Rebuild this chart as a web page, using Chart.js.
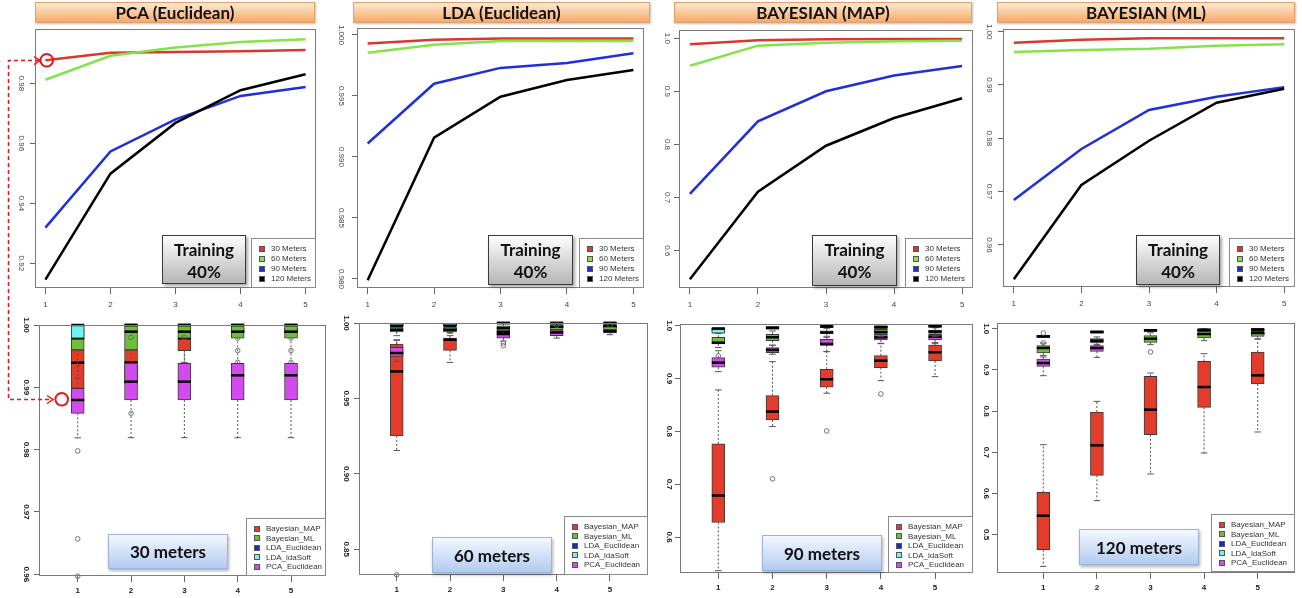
<!DOCTYPE html>
<html>
<head>
<meta charset="utf-8">
<script src="https://cdn.jsdelivr.net/npm/chart.js@4.4.1/dist/chart.umd.min.js"></script>
<style>
  body { margin: 0; background: #fff; }
  #stage { position: relative; width: 1302px; height: 598px; overflow: hidden; font-family: "Liberation Sans", Arial, sans-serif; }
  canvas.plot { position: absolute; }
  .banner, .train, .tag, .legend { position: absolute; box-sizing: border-box; }
  .banner { border: 1px solid #e2a168; background: linear-gradient(#fde9d3, #f5a96a); box-shadow: 1px 1px 2px rgba(0,0,0,.25);
            font: bold 17px Lato, sans-serif; color: #111; display: flex; align-items: center; justify-content: center; }
  .train { border: 1px solid #3a3a3a; background: linear-gradient(#fdfdfd, #b6b6b6); box-shadow: 2px 2px 3px rgba(0,0,0,.35);
           font: bold 17px Lato, sans-serif; color: #111; text-align: center; line-height: 22px; padding-top: 3px; }
  .tag { border: 1px solid #9cb3d8; background: linear-gradient(#f3f8ff, #b3cbef); box-shadow: 1px 2px 3px rgba(0,0,0,.3);
         font: bold 17px Lato, sans-serif; color: #111; display: flex; align-items: center; justify-content: center; }
  .legend { border: 1px solid #8a8a8a; background: #fff; font-size: 8px; color: #333; }
  .lrow { position: absolute; left: 0; right: 0; }
  .lrow i { position: absolute; left: 7px; top: 50%; width: 6px; height: 6px; margin-top: -3px; box-sizing: border-box; border: 1px solid #555; }
  .lrow span { position: absolute; left: 19px; white-space: nowrap; }
  #anno { position: absolute; left: 0; top: 0; pointer-events: none; }
</style>
</head>
<body>
<div id="stage"></div>
<script>
// ---- data ----
const steps = [1, 2, 3, 4, 5];
const meterLabels = ['30 Meters', '60 Meters', '90 Meters', '120 Meters'];
const methodLabels = ['Bayesian_MAP', 'Bayesian_ML', 'LDA_Euclidean', 'LDA_ldaSoft', 'PCA_Euclidean'];
const panelTitles = ['PCA (Euclidean)', 'LDA (Euclidean)', 'BAYESIAN (MAP)', 'BAYESIAN (ML)'];
const boxTitles = ['30 meters', '60 meters', '90 meters', '120 meters'];

// training curves (accuracy per step)
const pcaLine30 = [0.9877, 0.9902, 0.9904, 0.9907, 0.9911];
const pcaLine60 = [0.9812, 0.9892, 0.9919, 0.9938, 0.9947];
const pcaLine90 = [0.9319, 0.9573, 0.9680, 0.9758, 0.9788];
const pcaLine120 = [0.9146, 0.9499, 0.9668, 0.9777, 0.9830];
const ldaLine30 = [0.9993, 0.9996, 0.9997, 0.9997, 0.9997];
const ldaLine60 = [0.99855, 0.9992, 0.9995, 0.9995, 0.9995];
const ldaLine90 = [0.9911, 0.9960, 0.9973, 0.9977, 0.9985];
const ldaLine120 = [0.9799, 0.99158, 0.99494, 0.99631, 0.99713];
const mapLine30 = [0.9887, 0.9962, 0.9980, 0.9985, 0.9985];
const mapLine60 = [0.9484, 0.9861, 0.9917, 0.9944, 0.9955];
const mapLine90 = [0.707, 0.8437, 0.9002, 0.930, 0.9478];
const mapLine120 = [0.5461, 0.7111, 0.7977, 0.8499, 0.887];
const mlLine30 = [0.99794, 0.9985, 0.99875, 0.99875, 0.99875];
const mlLine60 = [0.99619, 0.99657, 0.99681, 0.99737, 0.99763];
const mlLine90 = [0.96842, 0.978, 0.98531, 0.9878, 0.9896];
const mlLine120 = [0.95356, 0.97124, 0.97955, 0.98667, 0.9893];

// y tick labels
const pcaTicks = ['0.92', '0.94', '0.96', '0.98'];
const ldaTicks = ['0.980', '0.985', '0.990', '0.995', '1.000'];
const mapTicks = ['0.6', '0.7', '0.8', '0.9', '1.0'];
const mlTicks = ['0.96', '0.97', '0.98', '0.99', '1.00'];
const box30Ticks = ['0.96', '0.97', '0.98', '0.99', '1.00'];
const box60Ticks = ['0.85', '0.90', '0.95', '1.00'];
const box90Ticks = ['0.6', '0.7', '0.8', '0.9', '1.0'];
const box120Ticks = ['0.5', '0.6', '0.7', '0.8', '0.9', '1.0'];

// box stats per step: [lower whisker, q1, median, q3, upper whisker]
const box30MAP = [[0.9875, 0.98984, 0.99395, 0.9960, 0.9980], [0.9900, 0.9905, 0.9940, 0.9960, 0.9980], [0.9940, 0.99588, 0.99787, 0.99787, 0.9990], [0.9985, 0.9988, 0.9990, 0.9995, 1.0], [0.9985, 0.9988, 0.9990, 0.9995, 1.0]];
const box30ML = [[0.9915, 0.99599, 0.99787, 0.99787, 1.0], [0.9960, 0.9960, 0.99893, 1.0, 1.0], [0.99787, 0.99787, 0.99893, 1.0, 1.0], [0.99787, 0.99787, 0.99893, 1.0, 1.0], [0.99787, 0.99787, 0.99893, 1.0, 1.0]];
const box30LDAE = [[0.99787, 0.99787, 0.9990, 1.0, 1.0], [1, 1, 1, 1, 1], [1, 1, 1, 1, 1], [1, 1, 1, 1, 1], [1, 1, 1, 1, 1]];
const box30LDAS = [[0.99787, 0.99787, 1.0, 1.0, 1.0], [1, 1, 1, 1, 1], [1, 1, 1, 1, 1], [1, 1, 1, 1, 1], [1, 1, 1, 1, 1]];
const box30PCA = [[0.9819, 0.98583, 0.98797, 0.98984, 0.9935], [0.98192, 0.98797, 0.99091, 0.99385, 0.9960], [0.98192, 0.98797, 0.99091, 0.99385, 0.9960], [0.98192, 0.98797, 0.99193, 0.99385, 0.9980], [0.98192, 0.98797, 0.99193, 0.99385, 0.9980]];
const out30MAP = [[], [], [], [0.9979, 0.9959, 0.9940], [0.9979, 0.9959, 0.9940]];
const out30LDAS = [[], [0.998], [0.998], [], []];
const out30PCA = [[0.9798, 0.9657, 0.9597], [0.98583], [], [], []];

const box60MAP = [[0.91545, 0.92520, 0.96788, 0.98606, 0.98846], [0.97385, 0.98182, 0.98892, 0.99004, 0.9935], [0.9905, 0.9929, 0.9940, 0.9955, 0.9970], [0.9955, 0.9965, 0.9975, 0.9985, 0.9995], [0.9955, 0.9965, 0.9975, 0.9985, 0.9995]];
const box60ML = [[0.9916, 0.99403, 0.99555, 0.99734, 0.9990], [0.9916, 0.99403, 0.99555, 0.99734, 0.9990], [0.9950, 0.9950, 0.9966, 0.9982, 1.0], [0.99555, 0.99555, 0.9975, 0.9989, 1.0], [0.99555, 0.99555, 0.9980, 0.9990, 1.0]];
const box60LDAE = [[0.9982, 0.9982, 0.9990, 1.0, 1.0], [0.9982, 0.9982, 0.9990, 1.0, 1.0], [1, 1, 1, 1, 1], [1, 1, 1, 1, 1], [1, 1, 1, 1, 1]];
const box60LDAS = [[0.9982, 0.9982, 0.9982, 1.0, 1.0], [0.9982, 0.9982, 0.9982, 1.0, 1.0], [1, 1, 1, 1, 1], [1, 1, 1, 1, 1], [1, 1, 1, 1, 1]];
const box60PCA = [[0.97451, 0.97783, 0.98009, 0.98381, 0.9889], [0.9935, 0.9945, 0.9955, 0.9965, 0.9970], [0.9880, 0.9900, 0.9927, 0.9929, 0.9950], [0.9900, 0.99157, 0.99376, 0.99555, 0.9970], [0.99223, 0.9934, 0.9945, 0.99555, 0.9970]];
const out60MAP = [[0.8330], [], [], [], []];
const out60LDAS = [[], [], [], [0.9985], [0.9985]];
const out60PCA = [[], [], [0.98673, 0.98493], [], []];

const box90MAP = [[0.5363, 0.6276, 0.6786, 0.7764, 0.8785], [0.8091, 0.8217, 0.8374, 0.8677, 0.932], [0.8722, 0.8836, 0.8987, 0.9176, 0.951], [0.8960, 0.9206, 0.9338, 0.9433, 0.9667], [0.9036, 0.9333, 0.9497, 0.9635, 0.968]];
const box90ML = [[0.9587, 0.96541, 0.96786, 0.97807, 0.985], [0.963, 0.9716, 0.9781, 0.9837, 0.990], [0.980, 0.9855, 0.9870, 0.9905, 0.995], [0.980, 0.9840, 0.9880, 0.9930, 0.996], [0.980, 0.9856, 0.9888, 0.9919, 0.996]];
const box90LDAE = [[0.98563, 0.98563, 0.9943, 0.99509, 0.99509], [0.9935, 0.9935, 0.996, 0.998, 0.998], [0.9975, 0.9975, 0.9985, 0.9995, 0.9995], [0.9950, 0.9950, 0.9975, 0.9995, 0.9995], [0.9985, 0.9985, 0.999, 0.9995, 1.0]];
const box90LDAS = [[0.98563, 0.98563, 0.9943, 0.99509, 0.99509], [0.9935, 0.9935, 0.996, 0.998, 0.998], [0.9975, 0.9975, 0.9985, 0.9995, 0.9995], [0.9950, 0.9950, 0.9975, 0.9995, 0.9995], [0.9985, 0.9985, 0.999, 0.9995, 1.0]];
const box90PCA = [[0.9130, 0.9214, 0.9301, 0.9395, 0.9526], [0.946, 0.9490, 0.9541, 0.9584, 0.963], [0.9509, 0.9629, 0.9654, 0.9743, 0.978], [0.966, 0.9730, 0.9780, 0.9837, 0.988], [0.966, 0.9730, 0.9792, 0.9837, 0.988]];
const out90MAP = [[], [0.7102], [0.8009], [0.8709], []];
const out90ML = [[0.9427], [], [], [], []];

const box120MAP = [[0.4231, 0.4636, 0.5461, 0.6027, 0.7184], [0.5825, 0.6440, 0.7168, 0.7978, 0.8236], [0.6473, 0.7427, 0.8034, 0.8843, 0.8924], [0.6983, 0.8090, 0.8584, 0.9207, 0.9393], [0.7493, 0.8658, 0.8867, 0.9434, 0.975]];
const box120ML = [[0.9313, 0.9410, 0.9531, 0.9587, 0.965], [0.960, 0.9653, 0.9709, 0.9757, 0.980], [0.9612, 0.9668, 0.9757, 0.9830, 0.990], [0.9709, 0.9774, 0.9871, 0.9935, 0.998], [0.975, 0.9813, 0.9895, 0.9935, 0.999]];
const box120LDAE = [[0.9795, 0.9795, 0.9813, 0.9835, 0.9835], [0.990, 0.990, 0.992, 0.994, 0.994], [0.994, 0.994, 0.996, 0.998, 0.998], [0.995, 0.995, 0.997, 0.999, 1.0], [0.996, 0.996, 0.998, 0.999, 1.0]];
const box120LDAS = [[0.9795, 0.9795, 0.9813, 0.9835, 0.9835], [0.990, 0.990, 0.992, 0.994, 0.994], [0.994, 0.994, 0.996, 0.998, 0.998], [0.995, 0.995, 0.997, 0.999, 1.0], [0.996, 0.996, 0.998, 0.999, 1.0]];
const box120PCA = [[0.8859, 0.9085, 0.9167, 0.9264, 0.935], [0.9304, 0.9450, 0.9531, 0.9587, 0.962], [0.970, 0.972, 0.975, 0.978, 0.980], [0.980, 0.982, 0.986, 0.990, 0.992], [0.984, 0.985, 0.989, 0.991, 0.992]];
const out120ML = [[], [], [0.9434], [], []];
const out120LDAS = [[0.9895, 0.9654], [], [], [], []];
const noOut = [[], [], [], [], []];

// ---- layout ----
const AXIS_W = 32, AXIS_H = 26, PAD_T = 12, PAD_R = 2;
const lineColors = ['#d63a2c', '#86e24a', '#1f30d8', '#000000'];
const boxColors = ['#e43c2a', '#6cbf3a', '#1b28d6', '#74f2f2', '#d34aef'];
const boxOrder = [5, 3, 2, 1, 4]; // R overlay order: MAP, PCA, ML, LDA_E, LDA_soft

const topPanels = [
  { frame: [35, 29, 316, 288], x: [0.84, 5.16], y: [0.9118, 0.9981], ticks: pcaTicks, series: [pcaLine30, pcaLine60, pcaLine90, pcaLine120],
    banner: [35, 2, 315, 23], train: [162, 235, 246, 284], legend: [251, 238, 316, 288] },
  { frame: [357, 28, 644, 288], x: [0.84, 5.16], y: [0.97926, 1.00057], ticks: ldaTicks, series: [ldaLine30, ldaLine60, ldaLine90, ldaLine120],
    banner: [353, 2, 650, 23], train: [488, 235, 573, 285], legend: [579, 238, 644, 288] },
  { frame: [679, 30, 973, 288], x: [0.84, 5.16], y: [0.5298, 1.0156], ticks: mapTicks, series: [mapLine30, mapLine60, mapLine90, mapLine120],
    banner: [674, 2, 972, 23], train: [812, 235, 897, 286], legend: [905, 238, 973, 288] },
  { frame: [1003, 29, 1295, 287], x: [0.84, 5.16], y: [0.95212, 1.0005], ticks: mlTicks, series: [mlLine30, mlLine60, mlLine90, mlLine120],
    banner: [997, 2, 1295, 23], train: [1136, 235, 1220, 285], legend: [1229, 238, 1295, 287] }
];
const boxPanels = [
  { frame: [39, 325, 326, 576], x: [0.274, 5.656], y: [0.95973, 1.0], ticks: box30Ticks,
    sets: [box30MAP, box30ML, box30LDAE, box30LDAS, box30PCA], outs: [out30MAP, noOut, noOut, out30LDAS, out30PCA],
    tag: [108, 534, 228, 569], legend: [246, 518, 326, 576] },
  { frame: [359, 323, 648, 575], x: [0.293, 5.713], y: [0.8329, 1.0], ticks: box60Ticks,
    sets: [box60MAP, box60ML, box60LDAE, box60LDAS, box60PCA], outs: [out60MAP, noOut, noOut, out60LDAS, out60PCA],
    tag: [432, 537, 552, 573], legend: [564, 516, 648, 575] },
  { frame: [680, 324, 973, 573], x: [0.293, 5.70], y: [0.532, 1.0032], ticks: box90Ticks,
    sets: [box90MAP, box90ML, box90LDAE, box90LDAS, box90PCA], outs: [out90MAP, out90ML, noOut, noOut, noOut],
    tag: [762, 535, 882, 571], legend: [888, 516, 973, 573] },
  { frame: [997, 323, 1295, 573], x: [0.136, 5.696], y: [0.407, 1.0138], ticks: box120Ticks,
    sets: [box120MAP, box120ML, box120LDAE, box120LDAS, box120PCA], outs: [noOut, out120ML, noOut, out120LDAS, noOut],
    tag: [1079, 529, 1199, 565], legend: [1211, 514, 1295, 572] }
];

Chart.defaults.font.family = '"Liberation Sans", Arial, sans-serif';
Chart.defaults.animation = false;
const stage = document.getElementById('stage');

function place(el, r) {
  el.style.left = r[0] + 'px'; el.style.top = r[1] + 'px';
  el.style.width = (r[2] - r[0]) + 'px'; el.style.height = (r[3] - r[1]) + 'px';
}

function makeCanvas(f) {
  const c = document.createElement('canvas');
  c.className = 'plot';
  c.width = f[2] - f[0] + AXIS_W + PAD_R;
  c.height = f[3] - f[1] + PAD_T + AXIS_H;
  c.style.left = (f[0] - AXIS_W) + 'px';
  c.style.top = (f[1] - PAD_T) + 'px';
  stage.appendChild(c);
  return c;
}

function scales(p, bold) {
  const font = { size: 8, weight: bold ? 'bold' : 'normal' };
  const color = bold ? '#222' : '#444';
  return {
    x: {
      type: 'linear', min: p.x[0], max: p.x[1], offset: false, bounds: 'data',
      afterBuildTicks: s => { s.ticks = steps.map(v => ({ value: v })); },
      afterFit: s => { s.height = AXIS_H; s.paddingLeft = 0; s.paddingRight = 0; },
      grid: { drawOnChartArea: false, tickLength: 6, color: '#666', offset: false },
      border: { display: false },
      ticks: { autoSkip: false, maxRotation: 0, padding: bold ? 4 : 6, font, color, callback: v => String(v) }
    },
    y: {
      type: 'linear', min: p.y[0], max: p.y[1], bounds: 'data',
      afterBuildTicks: s => { s.ticks = p.ticks.map(t => ({ value: parseFloat(t) })); },
      afterFit: s => { s.width = AXIS_W; s.paddingTop = 0; s.paddingBottom = 0; },
      grid: { drawOnChartArea: false, tickLength: 5, color: '#666' },
      border: { display: false },
      ticks: { minRotation: -90, crossAlign: 'center', padding: bold ? 0 : 1, font, color, callback: (v, i) => p.ticks[i] }
    }
  };
}

// plot frame like R's box()
const framePlugin = {
  id: 'frame',
  afterDatasetsDraw(chart) {
    const { ctx, chartArea: a } = chart;
    ctx.save();
    ctx.strokeStyle = '#7a7a7a';
    ctx.lineWidth = 1;
    ctx.strokeRect(Math.round(a.left) + 0.5, Math.round(a.top) + 0.5, Math.round(a.right - a.left) - 1, Math.round(a.bottom - a.top) - 1);
    ctx.restore();
  }
};

// whiskers before each box set, medians and outliers after it
const boxParts = {
  id: 'boxParts',
  beforeDatasetDraw(chart, args) {
    const ds = chart.data.datasets[args.index];
    const y = chart.scales.y, ctx = chart.ctx;
    ctx.save();
    ctx.strokeStyle = '#555';
    ctx.lineWidth = 1;
    args.meta.data.forEach((bar, i) => {
      const [lo, q1, , q3, hi] = ds.stats[i];
      const cap = bar.width / 4;
      [[q3, hi], [q1, lo]].forEach(([a, b]) => {
        if (a === b) return;
        const ya = y.getPixelForValue(a), yb = y.getPixelForValue(b);
        ctx.setLineDash([2, 2]);
        ctx.beginPath(); ctx.moveTo(bar.x, ya); ctx.lineTo(bar.x, yb); ctx.stroke();
        ctx.setLineDash([]);
        ctx.beginPath(); ctx.moveTo(bar.x - cap, yb); ctx.lineTo(bar.x + cap, yb); ctx.stroke();
      });
    });
    ctx.restore();
  },
  afterDatasetDraw(chart, args) {
    const ds = chart.data.datasets[args.index];
    const y = chart.scales.y, ctx = chart.ctx;
    ctx.save();
    args.meta.data.forEach((bar, i) => {
      const ym = y.getPixelForValue(ds.stats[i][2]);
      ctx.strokeStyle = '#000';
      ctx.lineWidth = 2.5;
      ctx.beginPath(); ctx.moveTo(bar.x - bar.width / 2, ym); ctx.lineTo(bar.x + bar.width / 2, ym); ctx.stroke();
      ctx.strokeStyle = '#666';
      ctx.lineWidth = 0.9;
      ds.outliers[i].forEach(v => {
        ctx.beginPath(); ctx.arc(bar.x, y.getPixelForValue(v), 2.3, 0, Math.PI * 2); ctx.stroke();
      });
    });
    ctx.restore();
  }
};

function addLegend(r, labels, colors, rowH) {
  const box = document.createElement('div');
  box.className = 'legend';
  place(box, r);
  labels.forEach((lab, k) => {
    const row = document.createElement('div');
    row.className = 'lrow';
    row.style.top = (10 - rowH / 2 + k * rowH) + 'px';
    row.style.height = rowH + 'px';
    row.style.lineHeight = rowH + 'px';
    row.innerHTML = `<i style="background:${colors[k]}"></i><span>${lab}</span>`;
    box.appendChild(row);
  });
  stage.appendChild(box);
}

function addDiv(cls, r, html) {
  const d = document.createElement('div');
  d.className = cls;
  place(d, r);
  d.innerHTML = html;
  stage.appendChild(d);
}

const chartOptions = bold => p => ({
  responsive: false, devicePixelRatio: 1,
  layout: { padding: { top: PAD_T, right: PAD_R, left: 0, bottom: 0 } },
  plugins: { legend: { display: false }, tooltip: { enabled: false } },
  scales: scales(p, bold)
});

// top row: training curves
topPanels.forEach((p, n) => {
  new Chart(makeCanvas(p.frame), {
    type: 'line',
    data: {
      datasets: p.series.map((arr, k) => ({
        label: meterLabels[k],
        data: steps.map((s, i) => ({ x: s, y: arr[i] })),
        borderColor: lineColors[k],
        borderWidth: 2.5,
        pointRadius: 0,
        tension: 0,
        fill: false,
        order: 3 - k
      }))
    },
    options: chartOptions(false)(p),
    plugins: [framePlugin]
  });
  addDiv('banner', p.banner, panelTitles[n]);
  addDiv('train', p.train, 'Training<br>40%');
  addLegend(p.legend, meterLabels, lineColors, 10);
});

// bottom row: box plots per distance
boxPanels.forEach((p, n) => {
  new Chart(makeCanvas(p.frame), {
    type: 'bar',
    data: {
      datasets: p.sets.map((stats, m) => ({
        label: methodLabels[m],
        data: steps.map((s, i) => ({ x: s, y: [stats[i][1], stats[i][3]] })),
        stats: stats,
        outliers: p.outs[m],
        backgroundColor: boxColors[m],
        borderColor: '#3a3a3a',
        borderWidth: 1,
        borderSkipped: false,
        barThickness: 13,
        maxBarThickness: 13,
        grouped: false,
        order: boxOrder[m]
      }))
    },
    options: chartOptions(true)(p),
    plugins: [boxParts, framePlugin]
  });
  addDiv('tag', p.tag, boxTitles[n]);
  addLegend(p.legend, methodLabels, boxColors, 9.4);
});

// red dashed pointer between the two PCA panels
stage.insertAdjacentHTML('beforeend', `
<svg id="anno" width="1302" height="598">
  <g fill="none" stroke="#e8151b">
    <path d="M39 60.5 H8.5 V399.5 H52" stroke-width="1.5" stroke-dasharray="4 3"/>
    <path d="M34 56.5 L40 60.5 L34 64.5" stroke-width="1.5"/>
    <path d="M47 395.5 L53 399.5 L47 403.5" stroke-width="1.5"/>
    <circle cx="46.7" cy="60.3" r="6.3" stroke-width="2"/>
    <circle cx="61.7" cy="399.3" r="6.3" stroke-width="2"/>
  </g>
</svg>`);
</script>
</body>
</html>
